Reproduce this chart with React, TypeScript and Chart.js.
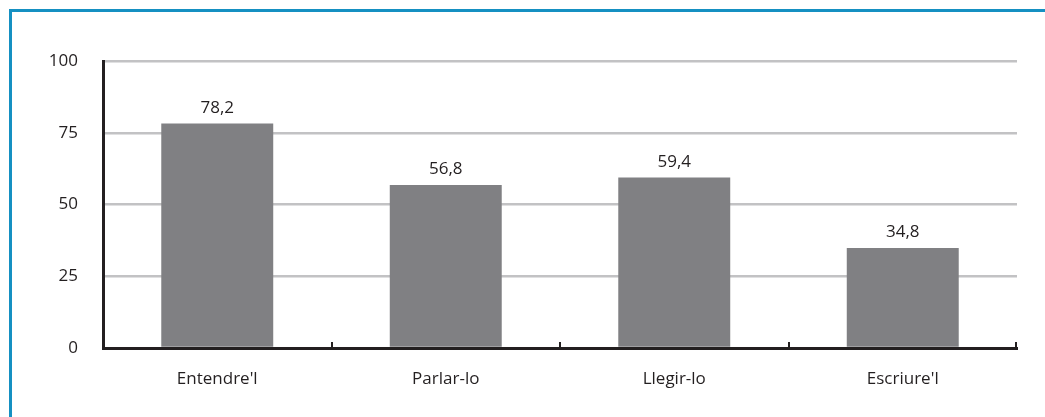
import React, { useEffect, useRef } from "react";
import { Chart, registerables } from "chart.js";

Chart.register(...registerables);

const categories = ["Entendre'l", "Parlar-lo", "Llegir-lo", "Escriure'l"];
const values = [78.2, 56.8, 59.4, 34.8];
const yTicks = [0, 25, 50, 75, 100];

const FONT = "'Open Sans', 'Noto Sans', sans-serif";
const AXIS_COLOR = "#231f20";
const TEXT_COLOR = "#231f20";

const fmt = (v: number) => v.toFixed(1).replace(".", ",");

// value labels above each bar
const valueLabels = {
  id: "valueLabels",
  afterDatasetsDraw(chart: any) {
    const ctx = chart.ctx;
    const meta = chart.getDatasetMeta(0);
    ctx.save();
    ctx.font = `17px ${FONT}`;
    ctx.fillStyle = TEXT_COLOR;
    ctx.textAlign = "center";
    ctx.textBaseline = "alphabetic";
    meta.data.forEach((bar: any, i: number) => {
      ctx.fillText(fmt(values[i]), bar.x, bar.y - 11);
    });
    ctx.restore();
  },
};

// small upward tick marks on the category axis at category boundaries
const innerTicks = {
  id: "innerTicks",
  afterDraw(chart: any) {
    const { ctx, chartArea } = chart;
    const xs = chart.scales.x;
    const n = categories.length;
    const step = (chartArea.right - chartArea.left) / n;
    ctx.save();
    ctx.strokeStyle = AXIS_COLOR;
    ctx.lineWidth = 2;
    for (let i = 1; i <= n; i++) {
      const x = Math.round(xs.left + step * i) - (i === n ? 1 : 0);
      ctx.beginPath();
      ctx.moveTo(x, chartArea.bottom);
      ctx.lineTo(x, chartArea.bottom - 6);
      ctx.stroke();
    }
    ctx.restore();
  },
};

export default function App() {
  const ref = useRef<HTMLCanvasElement | null>(null);

  useEffect(() => {
    if (!ref.current) return;
    const chart = new Chart(ref.current, {
      type: "bar",
      data: {
        labels: categories,
        datasets: [
          {
            data: values,
            backgroundColor: "#808083",
            borderWidth: 0,
            categoryPercentage: 1,
            barPercentage: 0.49,
          },
        ],
      },
      options: {
        responsive: false,
        animation: false,
        devicePixelRatio: 1,
        layout: { padding: { top: 61, right: 28, left: 0, bottom: 0 } },
        plugins: {
          legend: { display: false },
          tooltip: { enabled: false },
        },
        scales: {
          x: {
            grid: { display: false, drawTicks: false },
            border: { display: true, color: AXIS_COLOR, width: 3 },
            ticks: {
              padding: 21,
              color: TEXT_COLOR,
              font: { family: FONT, size: 17 },
            },
            afterFit: (s: any) => {
              s.height = 69;
            },
          },
          y: {
            min: 0,
            max: 100,
            afterBuildTicks: (s: any) => {
              s.ticks = yTicks.map((v) => ({ value: v }));
            },
            grid: {
              color: (c: any) => (c.tick && c.tick.value === 0 ? "rgba(0,0,0,0)" : "#c2c2c4"),
              lineWidth: 2.5,
              drawTicks: false,
            },
            border: { display: true, color: AXIS_COLOR, width: 3 },
            ticks: {
              padding: 25,
              color: TEXT_COLOR,
              font: { family: FONT, size: 17 },
            },
            afterFit: (s: any) => {
              s.width = 103;
            },
          },
        },
      },
      plugins: [valueLabels, innerTicks],
    });
    return () => chart.destroy();
  }, []);

  return (
    <div style={{ position: "absolute", left: 0, top: 0, width: 1045, height: 417, background: "#fff" }}>
      <canvas ref={ref} width={1045} height={417} style={{ position: "absolute", left: 0, top: 0 }} />
      <div
        style={{
          position: "absolute",
          left: 9,
          top: 9,
          right: 0,
          bottom: 0,
          borderLeft: "3px solid #1590c2",
          borderTop: "3px solid #1590c2",
          pointerEvents: "none",
        }}
      />
    </div>
  );
}
